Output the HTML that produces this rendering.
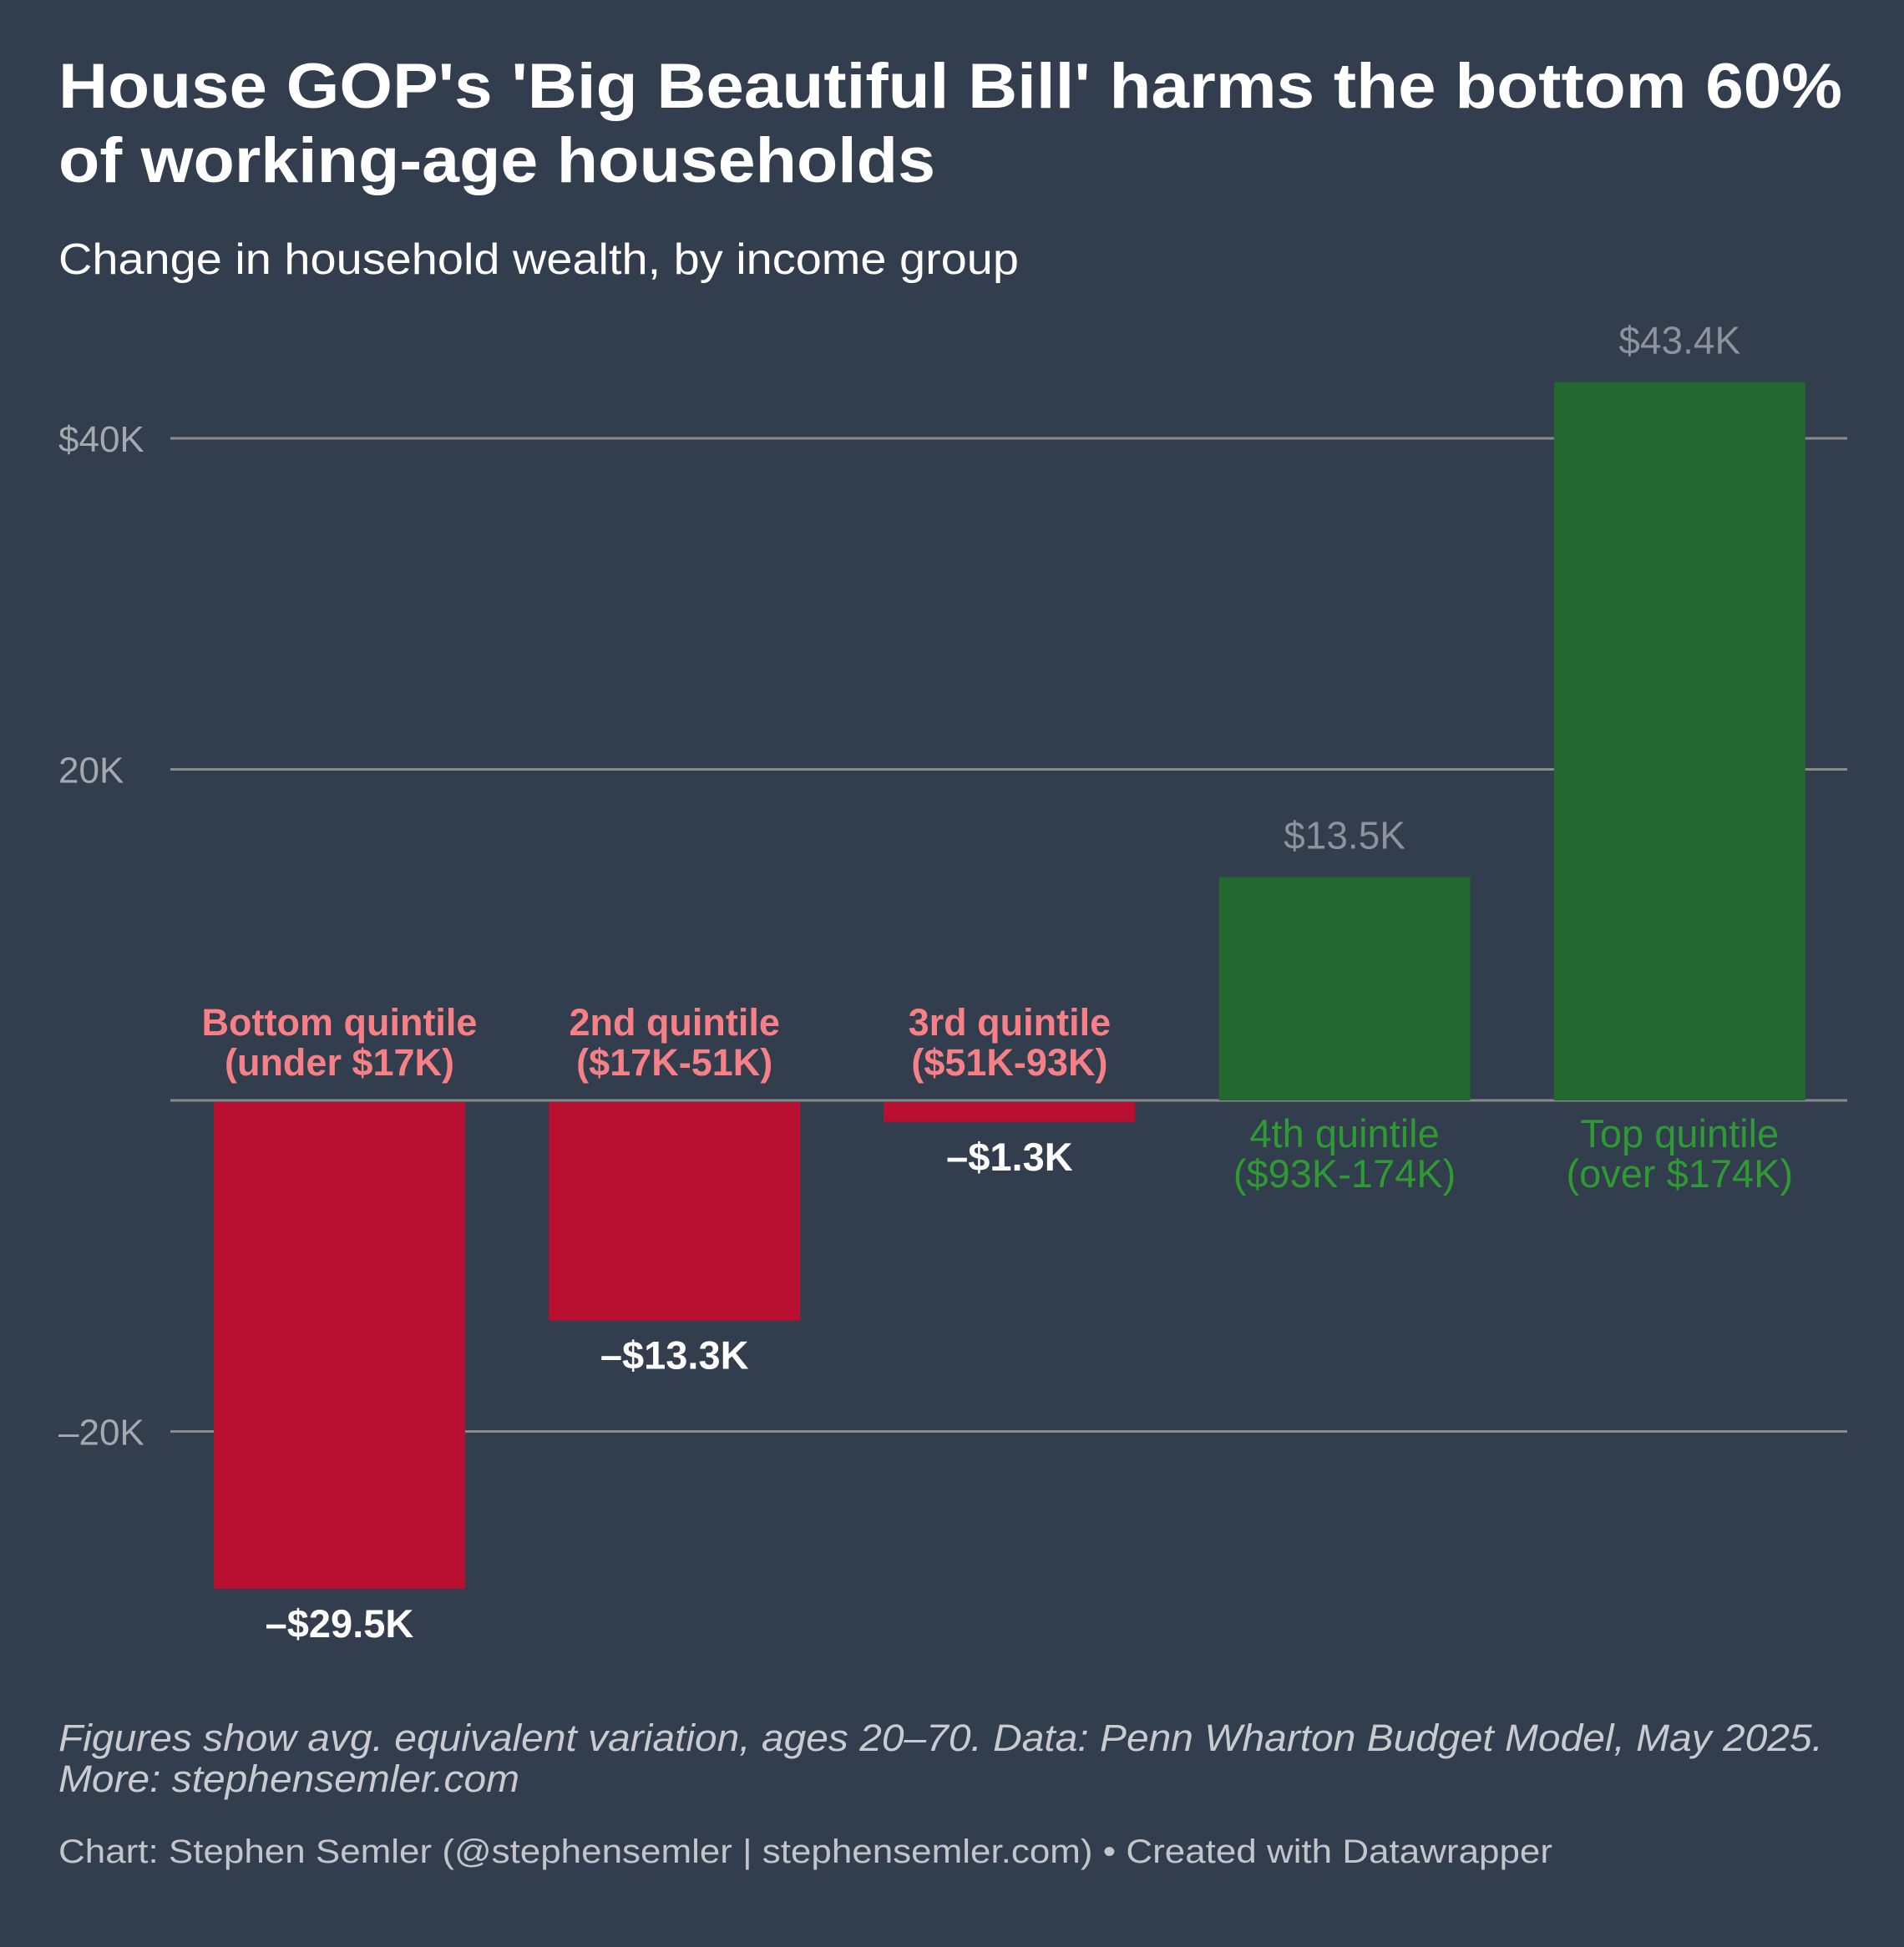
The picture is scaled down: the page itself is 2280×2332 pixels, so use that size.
<!DOCTYPE html>
<html><head><meta charset="utf-8"><style>
html,body{margin:0;padding:0;background:#323d4e;}
svg{display:block;font-family:"Liberation Sans",sans-serif;}
</style></head><body>
<svg id="chart" width="2280" height="2332" viewBox="0 0 2280 2332">
<rect width="2280" height="2332" fill="#323d4e"/>
<text x="70" y="129" font-size="76" font-weight="bold" fill="#fff" textLength="2136" lengthAdjust="spacingAndGlyphs">House GOP's 'Big Beautiful Bill' harms the bottom 60%</text>
<text x="70" y="218" font-size="76" font-weight="bold" fill="#fff" textLength="1050" lengthAdjust="spacingAndGlyphs">of working-age households</text>
<text x="70" y="328" font-size="52" fill="#fff" textLength="1150" lengthAdjust="spacingAndGlyphs">Change in household wealth, by income group</text>
<g id="grid"></g>
<g id="bars"></g>
<text x="70" y="2097" font-size="45" font-style="italic" fill="#c9cbd0" textLength="2113" lengthAdjust="spacingAndGlyphs">Figures show avg. equivalent variation, ages 20–70. Data: Penn Wharton Budget Model, May 2025.</text>
<text x="70" y="2146" font-size="45" font-style="italic" fill="#c9cbd0" textLength="552" lengthAdjust="spacingAndGlyphs">More: stephensemler.com</text>
<text x="70" y="2231" font-size="40" fill="#c3c5ca" textLength="1789" lengthAdjust="spacingAndGlyphs">Chart: Stephen Semler (@stephensemler | stephensemler.com) • Created with Datawrapper</text>
</svg>
<script>
const categories = ["Bottom quintile|(under $17K)","2nd quintile|($17K-51K)","3rd quintile|($51K-93K)","4th quintile|($93K-174K)","Top quintile|(over $174K)"];
const values = [-29.5, -13.3, -1.3, 13.5, 43.4];
const valueLabels = ["–$29.5K","–$13.3K","–$1.3K","$13.5K","$43.4K"];
const ticks = [40, 20, 0, -20];
const tickLabels = ["$40K","20K","","–20K"];

const NS = "http://www.w3.org/2000/svg";
const y0 = 1318, pxPerK = 396.5/20;
const yScale = v => y0 - v*pxPerK;
const step = 401.2, barW = 301, x0 = 256;
const xScale = i => x0 + i*step;
function mk(tag, attrs, parent){const e=document.createElementNS(NS,tag);for(const k in attrs)e.setAttribute(k,attrs[k]);parent.appendChild(e);return e;}
const grid=document.getElementById('grid'), bars=document.getElementById('bars');
ticks.forEach((t,i)=>{
  const l=mk('line',{x1:204,x2:2212,y1:yScale(t),y2:yScale(t),stroke:'#8a8a8a','stroke-width':3},grid);
  
  
  if(tickLabels[i]){
    const tx=mk('text',{x:70,y:yScale(t)+16,'font-size':44,fill:'#a5a8ae'},grid);
    tx.textContent=tickLabels[i];
    
    
  }
});
values.forEach((v,i)=>{
  const x=xScale(i), cx=x+barW/2, neg=v<0;
  const top=neg?y0+2:yScale(v), h=Math.abs(yScale(v)-y0)-(neg?2:0);
  const r=mk('rect',{x:x,y:top,width:barW,height:Math.max(h,1),fill:neg?'#b91031':'#226830'},bars);
  
  
  const vl=mk('text',{x:cx,'text-anchor':'middle','font-size':neg?47:46,fill:neg?'#ffffff':'#8d929b','font-weight':neg?'bold':'normal',y:neg?yScale(v)+58:yScale(v)-34},bars);
  vl.textContent=valueLabels[i];
  
  
  const parts=categories[i].split('|');
  const ys=neg?[1240,1288]:[1374,1422];
  parts.forEach((p,j)=>{
    const c=mk('text',{x:cx,y:ys[j],'text-anchor':'middle','font-size':neg?45:47,fill:neg?'#f77f86':'#2f9a34','font-weight':neg?'bold':'normal'},bars);
    c.textContent=p;
    
    
  });
});
</script>
</body></html>
